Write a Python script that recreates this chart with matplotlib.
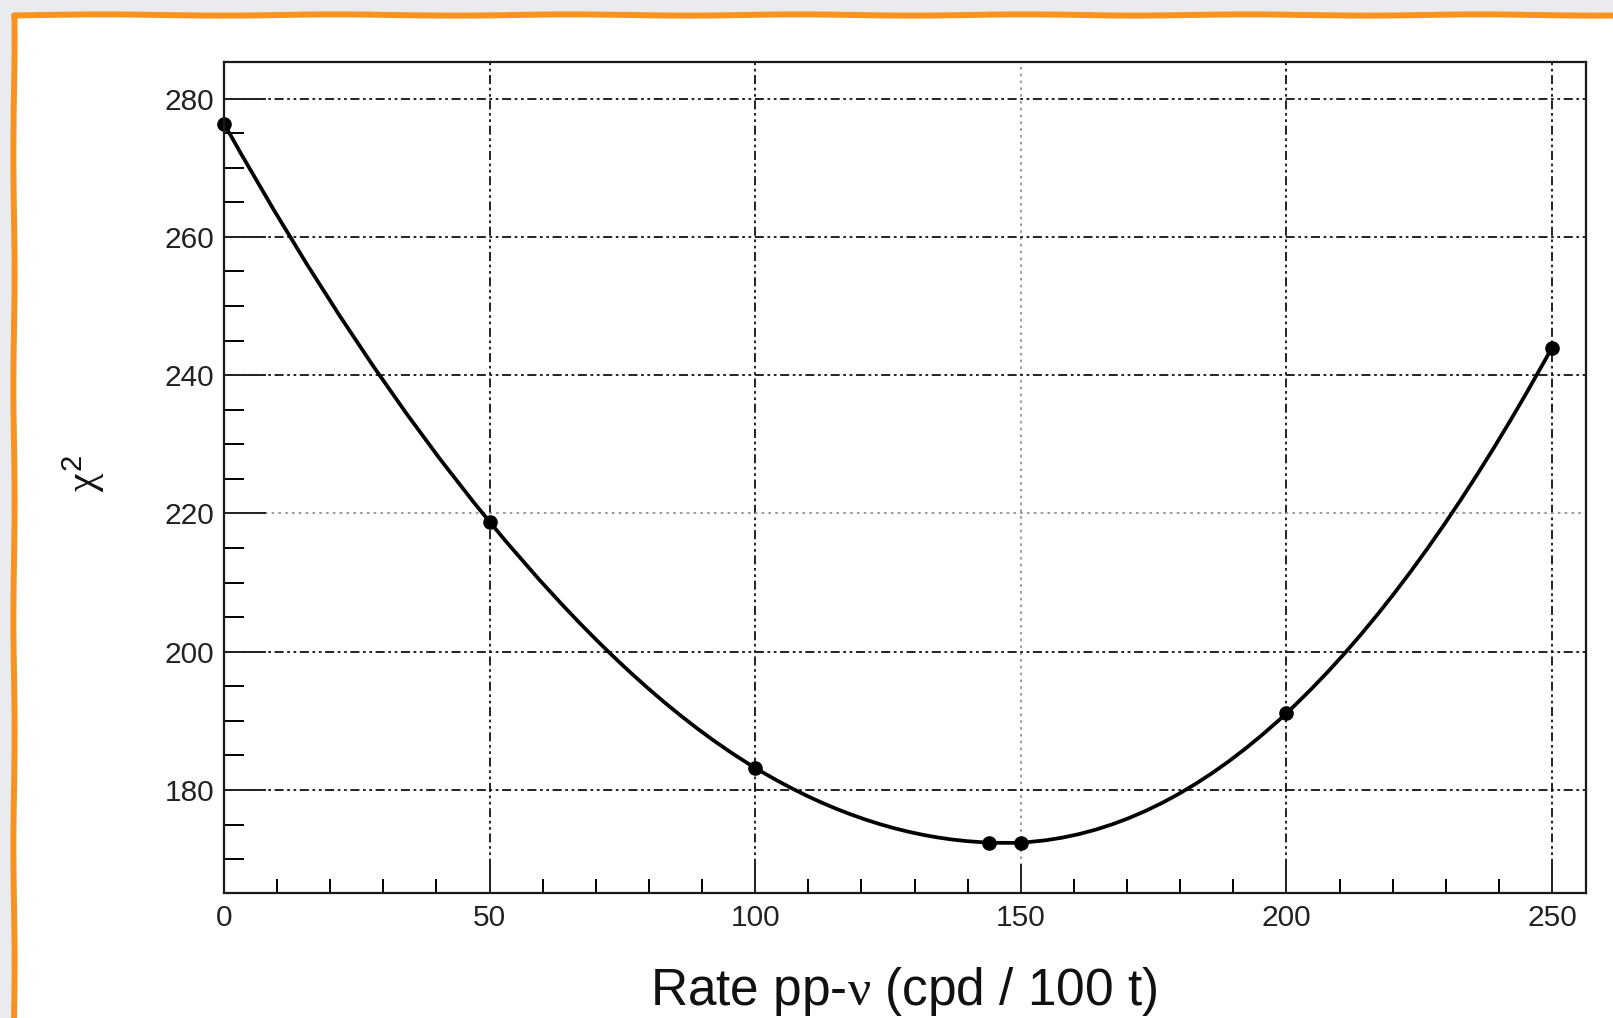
import numpy as np
import matplotlib
matplotlib.use('Agg')
import matplotlib.pyplot as plt
from matplotlib.path import Path
from matplotlib.patches import PathPatch, Rectangle
from matplotlib.ticker import FixedLocator, MultipleLocator

# chi2 scan vs pp-nu rate
rate = [0, 50, 100, 144, 150, 200, 250]
chi2 = [276.4, 218.8, 183.2, 172.4, 172.4, 191.1, 244.0]

x_ticks = [0, 50, 100, 150, 200, 250]
y_ticks = [180, 200, 220, 240, 260, 280]

plt.rcParams['font.family'] = ['Liberation Sans', 'DejaVu Sans']
plt.rcParams['mathtext.fontset'] = 'custom'
plt.rcParams['mathtext.rm'] = 'Liberation Sans'
plt.rcParams['mathtext.it'] = 'Liberation Serif'

fig = plt.figure(figsize=(16.13, 10.18), dpi=100)
fig.patch.set_facecolor('#e9ebee')

# white card with orange hand-drawn border
card = Rectangle((14 / 1613, -0.1), 1.2, 1.1 - 15 / 1018, transform=fig.transFigure,
                 facecolor='white', edgecolor='#f7931e', linewidth=4.3, joinstyle='round',
                 zorder=-1)
card.set_sketch_params(0.6, 250, 2)
fig.patches.append(card)

ax = fig.add_axes([224 / 1613, 1 - 893 / 1018, (1586 - 224) / 1613, (893 - 62) / 1018])
ax.set_facecolor('white')
ax.set_xlim(0, 256.4)
ax.set_ylim(165.1, 285.3)

# grid
grid_kw = dict(color='#111111', linewidth=1.3, linestyle=(0, (5, 2, 1.5, 2, 1.5, 2)), zorder=1)
for xv in x_ticks[1:]:
    if xv == 150:
        ax.axvline(xv, color='#999999', linewidth=1.4, linestyle=(0, (1.3, 2.2)), zorder=1)
    else:
        ax.axvline(xv, **grid_kw)
for yv in y_ticks:
    if yv == 220:
        ax.axhline(yv, color='#999999', linewidth=1.4, linestyle=(0, (1.3, 2.2)), zorder=1)
    else:
        ax.axhline(yv, **grid_kw)

# smooth curve through the points (cubic Hermite as Bezier path)
xa = np.array(rate, dtype=float)
ya = np.array(chi2, dtype=float)
m = np.gradient(ya, xa, edge_order=2)
verts = [(xa[0], ya[0])]
codes = [Path.MOVETO]
for i in range(len(xa) - 1):
    h = xa[i + 1] - xa[i]
    verts += [(xa[i] + h / 3, ya[i] + m[i] * h / 3),
              (xa[i + 1] - h / 3, ya[i + 1] - m[i + 1] * h / 3),
              (xa[i + 1], ya[i + 1])]
    codes += [Path.CURVE4] * 3
ax.add_patch(PathPatch(Path(verts, codes), facecolor='none', edgecolor='black',
                       linewidth=2.7, zorder=3, clip_on=False))
ax.plot(rate, chi2, 'o', color='black', markersize=9.5, zorder=4, clip_on=False)

# axes style (ROOT-like)
for side in ['left', 'bottom', 'top', 'right']:
    ax.spines[side].set_linewidth(1.6)
    ax.spines[side].set_color('#1a1a1a')
    ax.spines[side].set_zorder(5)

ax.set_xticks(x_ticks)
ax.set_yticks(y_ticks)
ax.xaxis.set_minor_locator(MultipleLocator(10))
ax.yaxis.set_minor_locator(FixedLocator([v for v in range(170, 281, 5) if v % 20]))
ax.tick_params(axis='x', which='major', direction='in', length=21, width=1.4, pad=8,
               labelsize=21.5, colors='#222222', top=False)
ax.tick_params(axis='x', which='minor', direction='in', length=10, width=1.4, top=False)
ax.tick_params(axis='y', which='major', direction='in', length=30, width=1.4, pad=7,
               labelsize=21.5, colors='#222222', right=False)
ax.tick_params(axis='y', which='minor', direction='in', length=14.5, width=1.4, right=False)
for t in ax.get_xticklines() + ax.get_yticklines():
    t.set_zorder(6)

fig.text(904 / 1613, 1 - 1005 / 1018, r'Rate pp-$\nu$ (cpd / 100 t)', ha='center', va='baseline',
         fontsize=37, color='#111111')
fig.text(84 / 1613, 1 - 474 / 1018, r'$\chi^{2}$', rotation=90, ha='center', va='center',
         fontsize=30, color='#111111')

fig.savefig('out.png', dpi=100, facecolor=fig.get_facecolor())
